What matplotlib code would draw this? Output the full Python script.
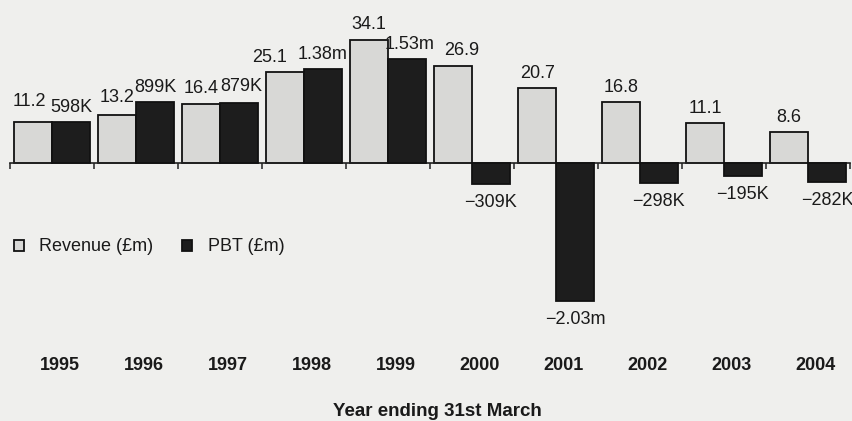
import matplotlib
matplotlib.use("Agg")
import numpy as np
import matplotlib.pyplot as plt
import matplotlib.transforms as mtransforms

# Company results by financial year
years = ["1995", "1996", "1997", "1998", "1999", "2000", "2001", "2002", "2003", "2004"]
revenue_m = [11.2, 13.2, 16.4, 25.1, 34.1, 26.9, 20.7, 16.8, 11.1, 8.6]
pbt_m = [0.598, 0.899, 0.879, 1.38, 1.53, -0.309, -2.03, -0.298, -0.195, -0.282]
series_names = ["Revenue (£m)", "PBT (£m)"]
x_title = "Year ending 31st March"

BG = "#efefed"
REV_FILL = "#d8d8d6"
PBT_FILL = "#1d1d1d"
EDGE = "#111111"
TXT = "#1a1a1a"

# Hand nudges (in points) for crowded value labels: year -> (dx, dy)
rev_label_nudge = {"1995": (-2.5, 4.5), "1996": (0, 2), "1998": (-11.5, 0), "2000": (6, 0)}
pbt_label_nudge = {"1997": (2, 1.5), "1999": (2, 0)}

W, H, DPI = 853, 421, 100
plt.rcParams["font.family"] = ["Liberation Sans", "DejaVu Sans"]
plt.rcParams["font.size"] = 13

fig = plt.figure(figsize=(W / DPI, H / DPI), dpi=DPI, facecolor=BG)
ax = fig.add_axes([10 / W, 0, 840 / W, 1])
ax.set_facecolor("none")
ax2 = ax.twinx()

# Both series share the zero line but use their own vertical scale
base_px = 163
rev_px_per_unit = 3.62
pbt_px_per_unit = 68.0
ax.set_ylim(-(H - base_px) / rev_px_per_unit, base_px / rev_px_per_unit)
ax2.set_ylim(-(H - base_px) / pbt_px_per_unit, base_px / pbt_px_per_unit)
ax.set_xlim(-0.5, len(years) - 0.5)

x = np.arange(len(years))
bw = 0.45
b1 = ax.bar(x - bw / 2, revenue_m, bw, color=REV_FILL, edgecolor=EDGE, linewidth=1.3, zorder=2)
b2 = ax2.bar(x + bw / 2, pbt_m, bw, color=PBT_FILL, edgecolor=EDGE, linewidth=1.3, zorder=2)


def fmt_rev(v):
    return f"{v:.1f}"


def fmt_pbt(v):
    s = f"{abs(v):.2f}m" if abs(v) >= 1 else f"{abs(v) * 1000:.0f}K"
    return ("\u2212" if v < 0 else "") + s


for xi, yr, v in zip(x, years, revenue_m):
    dx, dy = rev_label_nudge.get(yr, (0, 0))
    ax.annotate(fmt_rev(v), (xi - bw / 2, v), xytext=(dx, 4.5 + dy), textcoords="offset points",
                ha="center", va="bottom", fontsize=13, color=TXT)
for xi, yr, v in zip(x, years, pbt_m):
    dx, dy = pbt_label_nudge.get(yr, (0, 0))
    if v >= 0:
        ax2.annotate(fmt_pbt(v), (xi + bw / 2, v), xytext=(dx, 4.5 + dy), textcoords="offset points",
                     ha="center", va="bottom", fontsize=13, color=TXT)
    else:
        ax2.annotate(fmt_pbt(v), (xi + bw / 2, v), xytext=(dx, -7 + dy), textcoords="offset points",
                     ha="center", va="top", fontsize=13, color=TXT)

# Zero line with ticks at the group boundaries
for a in (ax, ax2):
    for side in ("top", "left", "right", "bottom"):
        a.spines[side].set_visible(False)
    a.set_yticks([])
ax.spines["bottom"].set_visible(True)
ax.spines["bottom"].set_position(("data", 0))
ax.spines["bottom"].set_linewidth(1.2)
ax.spines["bottom"].set_color("#222222")
ax.spines["bottom"].set_zorder(3)
ax.set_xticks(np.arange(-0.5, len(years), 1.0))
ax.tick_params(axis="x", direction="out", length=4, width=1.1, color="#222222", labelbottom=False)

# Year labels sit well below the plot
trans = mtransforms.blended_transform_factory(ax.transData, fig.transFigure)
for xi, yr in zip(x, years):
    ax.text(xi + 0.09, 1 - 365 / H, yr, transform=trans, ha="center", va="center",
            fontsize=13, fontweight="bold", color=TXT)
fig.text(437 / W, 1 - 411 / H, x_title, ha="center", va="center",
         fontsize=13.5, fontweight="bold", color=TXT)

leg = ax.legend([b1, b2], series_names, loc="center left",
                bbox_to_anchor=(14 / W, 1 - 247 / H), bbox_transform=fig.transFigure,
                ncol=2, frameon=False, handlelength=0.55, handleheight=0.55,
                handletextpad=0.85, columnspacing=1.6, borderpad=0, borderaxespad=0,
                fontsize=13)
for t in leg.get_texts():
    t.set_color(TXT)

fig.savefig("out.png", dpi=DPI, facecolor=BG)
